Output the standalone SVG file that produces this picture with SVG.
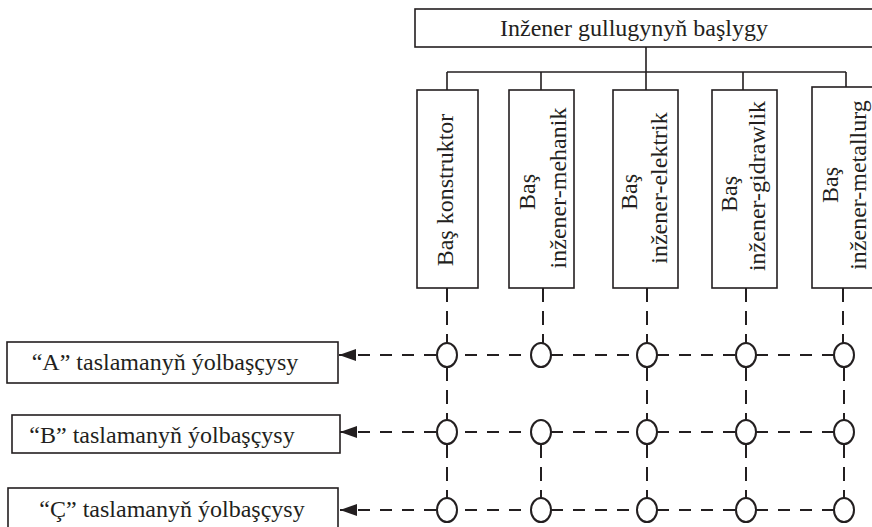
<svg xmlns="http://www.w3.org/2000/svg" width="872" height="527" viewBox="0 0 872 527">
<style>
.box{fill:#fff;stroke:#231f20;stroke-width:1.6}
.t{font-family:"Liberation Serif","Times New Roman",serif;font-size:24px;fill:#231f20}
.solid{fill:none;stroke:#231f20;stroke-width:1.6}
.dh{fill:none;stroke:#231f20;stroke-width:2;stroke-dasharray:12 10}
.dv{fill:none;stroke:#231f20;stroke-width:2;stroke-dasharray:14 9}
.c{fill:#fff;stroke:#231f20;stroke-width:2}
</style>
<defs>
<marker id="arr" markerUnits="userSpaceOnUse" markerWidth="18" markerHeight="12" viewBox="0 0 18 12" refX="17" refY="6" orient="auto">
<path d="M0,0 L17,6 L0,12 z" fill="#231f20"/>
</marker>
</defs>
<g id="connectors">
<path class="solid" d="M646,47 V72 M447,72 H846 M447,72 V90 M541,72 V90 M646,72 V90 M743,72 V90 M846,72 V87"/>
<path class="dv" d="M447,288 V343 M543,288 V343 M647,288 V343 M746,288 V343 M843,288 V343"/>
<path class="dv" d="M447,367 V420 M647,367 V420 M746,367 V420 M844,367 V420"/>
<path class="dv" d="M447,444 V498 M541,444 V498 M647,444 V498 M746,444 V498 M844,444 V498"/>
<path class="dh" d="M465,355 H531 M551,355 H637 M657,355 H736 M756,355 H834"/>
<path class="dh" d="M465,432 H531 M551,432 H637 M657,432 H736 M756,432 H834"/>
<path class="dh" d="M465,510 H531 M551,510 H637 M657,510 H736 M756,510 H834"/>
<line class="dh" x1="436" y1="355" x2="339" y2="355" marker-end="url(#arr)"/>
<line class="dh" x1="436" y1="432" x2="340" y2="432" marker-end="url(#arr)"/>
<line class="dh" x1="436" y1="510" x2="340" y2="510" marker-end="url(#arr)"/>
</g>
<g id="head">
<rect class="box" x="415" y="9" width="470" height="38"/>
<text class="t" x="634" y="36" text-anchor="middle">Inžener gullugynyň başlygy</text>
</g>
<g id="n1">
<rect class="box" x="417" y="90" width="61" height="198"/>
<text class="t" transform="translate(453,190) rotate(-90)" text-anchor="middle">Baş konstruktor</text>
</g>
<g id="n2">
<rect class="box" x="509" y="90" width="65" height="198"/>
<text class="t" transform="translate(535,192) rotate(-90)" text-anchor="middle">Baş</text>
<text class="t" transform="translate(566,188) rotate(-90)" text-anchor="middle">inžener-mehanik</text>
</g>
<g id="n3">
<rect class="box" x="613" y="90" width="65" height="198"/>
<text class="t" transform="translate(637,192) rotate(-90)" text-anchor="middle">Baş</text>
<text class="t" transform="translate(667,188) rotate(-90)" text-anchor="middle">inžener-elektrik</text>
</g>
<g id="n4">
<rect class="box" x="712" y="90" width="65" height="198"/>
<text class="t" transform="translate(737,194) rotate(-90)" text-anchor="middle">Baş</text>
<text class="t" transform="translate(765,186) rotate(-90)" text-anchor="middle">inžener-gidrawlik</text>
</g>
<g id="n5">
<rect class="box" x="812" y="87" width="80" height="201"/>
<text class="t" transform="translate(838,185) rotate(-90)" text-anchor="middle">Baş</text>
<text class="t" transform="translate(866,185) rotate(-90)" text-anchor="middle">inžener-metallurg</text>
</g>
<g id="pA">
<rect class="box" x="7" y="342" width="331" height="41"/>
<text class="t" x="165" y="370" text-anchor="middle">“A” taslamanyň ýolbaşçysy</text>
</g>
<g id="pB">
<rect class="box" x="12" y="415" width="328" height="38"/>
<text class="t" x="162" y="443" text-anchor="middle">“B” taslamanyň ýolbaşçysy</text>
</g>
<g id="pC">
<rect class="box" x="8" y="488" width="330" height="45"/>
<text class="t" x="172" y="517" text-anchor="middle">“Ç” taslamanyň ýolbaşçysy</text>
</g>
<g id="circles">
<ellipse class="c" cx="447" cy="355" rx="10" ry="12"/>
<ellipse class="c" cx="541" cy="355" rx="10" ry="12"/>
<ellipse class="c" cx="647" cy="355" rx="10" ry="12"/>
<ellipse class="c" cx="746" cy="355" rx="10" ry="12"/>
<ellipse class="c" cx="844" cy="355" rx="10" ry="12"/>
<ellipse class="c" cx="447" cy="432" rx="10" ry="12"/>
<ellipse class="c" cx="541" cy="432" rx="10" ry="12"/>
<ellipse class="c" cx="647" cy="432" rx="10" ry="12"/>
<ellipse class="c" cx="746" cy="432" rx="10" ry="12"/>
<ellipse class="c" cx="844" cy="432" rx="10" ry="12"/>
<ellipse class="c" cx="447" cy="510" rx="10" ry="12"/>
<ellipse class="c" cx="541" cy="510" rx="10" ry="12"/>
<ellipse class="c" cx="647" cy="510" rx="10" ry="12"/>
<ellipse class="c" cx="746" cy="510" rx="10" ry="12"/>
<ellipse class="c" cx="844" cy="510" rx="10" ry="12"/>
</g>
</svg>
